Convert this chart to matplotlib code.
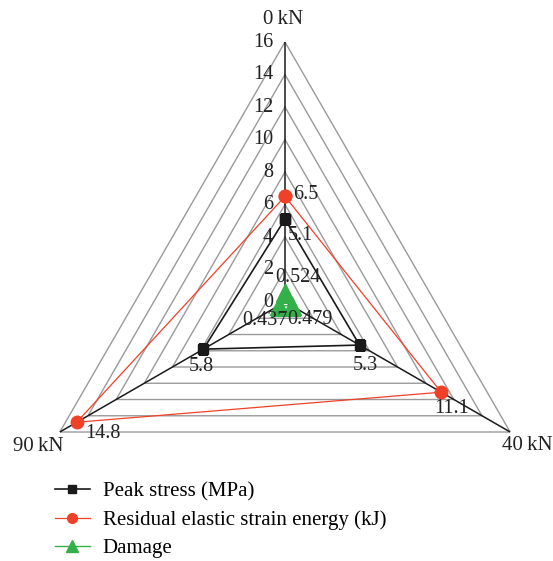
import numpy as np
import matplotlib.pyplot as plt

plt.rcParams['font.family'] = ['Liberation Serif', 'DejaVu Serif']

loads = ['0\u2009kN', '40\u2009kN', '90\u2009kN']
peak_stress = [5.1, 5.3, 5.8]
strain_energy = [6.5, 11.1, 14.8]
damage = [0.524, 0.479, 0.437]
rings = [2, 4, 6, 8, 10, 12, 14, 16]
tick_vals = [0, 2, 4, 6, 8, 10, 12, 14, 16]

theta = np.deg2rad([0, 120, 240])
tclose = np.append(theta, theta[0])

fig = plt.figure(figsize=(5.53, 5.61), dpi=100)
ax = fig.add_axes([0.0452, -0.0018, 0.9403, 0.9269], projection='polar')
ax.set_theta_offset(np.pi / 2)
ax.set_theta_direction(-1)
ax.set_ylim(0, 16)
ax.grid(False)
ax.set_xticks([])
ax.set_yticks([])
ax.spines['polar'].set_visible(False)
ax.patch.set_alpha(0)

# triangular grid
for r in rings:
    ax.plot(tclose, [r] * 4, color='#9a9a9a', lw=1.0, zorder=1)
for t in theta:
    ax.plot([t, t], [0, 16], color='#1a1a1a', lw=1.1, zorder=2)

# radial tick labels
for v in tick_vals:
    ax.annotate(str(v), (0, v), xytext=(-12, 0), textcoords='offset pixels',
                ha='right', va='center', fontsize=14.5, color='#222222',
                annotation_clip=False)

# axis names
name_offsets = [(-2, 23), (17, -13), (-22, -14)]
for t, lab, (dx, dy) in zip(theta, loads, name_offsets):
    ax.annotate(lab, (t, 16), xytext=(dx, dy), textcoords='offset pixels',
                ha='center', va='center', fontsize=15, color='#222222',
                annotation_clip=False)

ax.plot(tclose, peak_stress + peak_stress[:1], color='#1a1a1a', lw=1.2,
        marker='s', ms=7, zorder=4, label='Peak stress (MPa)')
ax.plot(tclose, strain_energy + strain_energy[:1], color='#ee4128', lw=0.9,
        marker='o', ms=9, zorder=5, label='Residual elastic strain energy (kJ)')
ax.plot(tclose, damage + damage[:1], color='#33b04a', lw=1.0,
        marker='^', ms=13, zorder=6, label='Damage')

# value labels
def label(t, v, dx, dy, ha):
    ax.annotate(str(v), (t, v), xytext=(dx, dy), textcoords='offset pixels',
                ha=ha, va='center', fontsize=14.5, color='#222222', zorder=7)

label(theta[0], peak_stress[0], 3, -16, 'left')
label(theta[1], peak_stress[1], 6, -20, 'center')
label(theta[2], peak_stress[2], -2, -17, 'center')
label(theta[0], strain_energy[0], 8, 2, 'left')
label(theta[1], strain_energy[1], -7, -16, 'left')
label(theta[2], strain_energy[2], 9, -11, 'left')
label(theta[0], damage[0], -10, 16, 'left')
label(theta[1], damage[1], -4, -14, 'left')
label(theta[2], damage[2], 9, -15, 'right')

leg = fig.legend(loc='upper left', bbox_to_anchor=(0.099, 0.141), frameon=False,
                 fontsize=15, handlelength=1.7, handletextpad=0.6, labelspacing=0.42,
                 borderaxespad=0, borderpad=0)
for h, ms in zip(leg.legend_handles, [6, 7, 8]):
    h.set_markersize(ms)

fig.savefig('out.png', dpi=100)
